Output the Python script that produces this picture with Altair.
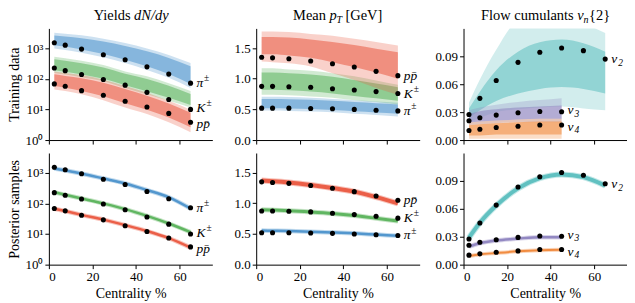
import altair as alt
import pandas as pd

FONT = "Liberation Serif"

cent = [2.5, 7.5, 15, 25, 35, 45, 55, 65]
cent_v = [2.5, 7.5, 15, 25, 35, 45]

# measured data (black dots)
dn_pi = [1500, 1250, 930, 610, 415, 245, 142, 72]
dn_k = [224, 184, 138, 95, 62, 36, 21, 10]
dn_p = [68, 57, 41, 29, 18.5, 12, 7.4, 3.8]
pt_pi = [0.52, 0.52, 0.52, 0.515, 0.51, 0.50, 0.487, 0.475]
pt_k = [0.875, 0.875, 0.87, 0.86, 0.837, 0.816, 0.79, 0.758]
pt_p = [1.35, 1.34, 1.325, 1.29, 1.245, 1.19, 1.12, 1.05]
v2 = [0.0275, 0.0448, 0.064, 0.0835, 0.0944, 0.099, 0.0961, 0.087]
v3 = [0.0208, 0.024, 0.0268, 0.0293, 0.0307, 0.0305]
v4 = [0.0102, 0.0116, 0.0134, 0.0148, 0.0162, 0.0162]

# training design: outer envelope and dense core of the model curves
tr_dn_pi_lo = [980, 870, 710, 500, 324, 195, 107, 50]
tr_dn_pi_hi = [3160, 2950, 2630, 2040, 1480, 980, 600, 324]
tr_dn_pi_clo = [1250, 1120, 900, 640, 420, 255, 142, 68]
tr_dn_pi_chi = [2600, 2400, 2100, 1650, 1180, 790, 480, 255]
tr_dn_k_lo = [155, 138, 112, 83, 50, 31, 19, 11.5]
tr_dn_k_hi = [525, 468, 389, 282, 174, 120, 72, 40]
tr_dn_k_clo = [190, 170, 138, 100, 62, 39, 24, 14]
tr_dn_k_chi = [430, 385, 320, 232, 146, 98, 59, 32]
tr_dn_p_lo = [45, 40, 31, 20, 11.5, 7.1, 3.8, 1.8]
tr_dn_p_hi = [174, 155, 132, 93, 58, 35, 19, 9.8]
tr_dn_p_clo = [58, 51, 40, 27, 16, 9.8, 5.4, 2.6]
tr_dn_p_chi = [140, 124, 104, 74, 46, 28, 15.5, 7.8]

tr_pt_pi_lo = [0.48, 0.48, 0.475, 0.465, 0.455, 0.43, 0.41, 0.385]
tr_pt_pi_hi = [0.705, 0.705, 0.70, 0.69, 0.67, 0.65, 0.63, 0.61]
tr_pt_pi_clo = [0.52, 0.52, 0.515, 0.505, 0.49, 0.47, 0.45, 0.43]
tr_pt_pi_chi = [0.67, 0.67, 0.665, 0.655, 0.64, 0.62, 0.60, 0.58]
tr_pt_k_lo = [0.74, 0.74, 0.73, 0.71, 0.69, 0.65, 0.62, 0.58]
tr_pt_k_hi = [1.17, 1.17, 1.15, 1.13, 1.09, 1.04, 0.97, 0.90]
tr_pt_k_clo = [0.82, 0.82, 0.81, 0.79, 0.76, 0.72, 0.68, 0.64]
tr_pt_k_chi = [1.10, 1.10, 1.09, 1.07, 1.03, 0.98, 0.92, 0.86]
tr_pt_p_lo = [1.28, 1.27, 1.25, 1.20, 1.09, 0.98, 0.85, 0.74]
tr_pt_p_hi = [1.77, 1.77, 1.76, 1.73, 1.70, 1.65, 1.60, 1.54]
tr_pt_p_clo = [1.40, 1.40, 1.38, 1.34, 1.27, 1.19, 1.10, 1.00]
tr_pt_p_chi = [1.68, 1.68, 1.67, 1.64, 1.60, 1.55, 1.49, 1.43]

tr_v2_lo = [0.019, 0.024, 0.030, 0.033, 0.035, 0.036, 0.034, 0.032]
tr_v2_hi = [0.040, 0.065, 0.097, 0.128, 0.132, 0.13, 0.125, 0.115]
tr_v2_clo = [0.024, 0.032, 0.042, 0.050, 0.055, 0.057, 0.055, 0.050]
tr_v2_chi = [0.034, 0.052, 0.075, 0.095, 0.105, 0.108, 0.104, 0.095]
tr_v3_lo = [0.016, 0.017, 0.018, 0.019, 0.019, 0.019]
tr_v3_hi = [0.032, 0.035, 0.038, 0.041, 0.043, 0.045]
tr_v3_clo = [0.019, 0.020, 0.021, 0.022, 0.023, 0.023]
tr_v3_chi = [0.028, 0.031, 0.033, 0.035, 0.036, 0.037]
tr_v4_lo = [0.0015, 0.0015, 0.0015, 0.0015, 0.0015, 0.0015]
tr_v4_hi = [0.019, 0.020, 0.021, 0.022, 0.023, 0.023]
tr_v4_clo = [0.005, 0.005, 0.006, 0.006, 0.006, 0.006]
tr_v4_chi = [0.016, 0.017, 0.018, 0.019, 0.020, 0.020]

# posterior samples
po_dn_pi = [1380, 1190, 940, 650, 445, 272, 158, 68]
po_dn_k = [230, 190, 145, 99, 65, 39, 22, 11.5]
po_dn_p = [67, 56, 42, 29.5, 19.5, 12.5, 7.3, 3.6]
po_pt_pi = [0.555, 0.553, 0.548, 0.538, 0.525, 0.51, 0.49, 0.47]
po_pt_k = [0.895, 0.89, 0.88, 0.86, 0.835, 0.80, 0.755, 0.71]
po_pt_p = [1.37, 1.36, 1.34, 1.30, 1.25, 1.19, 1.10, 1.00]
po_v2 = [0.029, 0.045, 0.0635, 0.082, 0.093, 0.097, 0.094, 0.085]
po_v3 = [0.0195, 0.023, 0.026, 0.028, 0.0295, 0.0295]
po_v4 = [0.0095, 0.011, 0.0125, 0.0143, 0.0155, 0.016]

C_PI = "#4d94cc"
C_K = "#5bb35c"
C_P = "#ea5a41"
C_V2 = "#5cbfbf"
C_V3 = "#8e84c0"
C_V4 = "#f0883a"

W, H = 164, 112


def xenc(bottom):
    if bottom:
        ax = alt.Axis(values=[0, 20, 40, 60], title="Centrality %", titlePadding=3)
    else:
        ax = alt.Axis(values=[0, 20, 40, 60], labels=False, title=None)
    return alt.X("x:Q", scale=alt.Scale(domain=[0, 75], nice=False, zero=False), axis=ax)


def yenc(field, scale, axis):
    return alt.Y(field, type="quantitative", scale=scale, axis=axis)


def bands(xs, lo, hi, clo, chi, color, xe, ys, ya, clip=False):
    df = pd.DataFrame({"x": xs, "lo": lo, "hi": hi, "clo": clo, "chi": chi})
    b = alt.Chart(df)
    outer = b.mark_area(color=color, opacity=0.28, interpolate="monotone", clip=clip).encode(
        x=xe, y=yenc("lo", ys, ya), y2="hi")
    inner = b.mark_area(color=color, opacity=0.55, interpolate="monotone", clip=clip).encode(
        x=xe, y=yenc("clo", ys, ya), y2="chi")
    return [outer, inner]


def post(xs, vals, color, sw, xe, ys, ya):
    df = pd.DataFrame({"x": xs, "y": vals})
    b = alt.Chart(df)
    halo = b.mark_line(color=color, opacity=0.35, strokeWidth=sw + 2, interpolate="monotone").encode(
        x=xe, y=yenc("y", ys, ya))
    core = b.mark_line(color=color, opacity=0.95, strokeWidth=sw, interpolate="monotone").encode(
        x=xe, y=yenc("y", ys, ya))
    return [halo, core]


def dots(xs, vals, xe, ys, ya):
    df = pd.DataFrame({"x": xs, "y": vals})
    return [alt.Chart(df).mark_circle(size=26, color="black", opacity=1).encode(
        x=xe, y=yenc("y", ys, ya))]


def label(x, y, main, extra, extra_dx, extra_dy, xe, ys, ya, dy=0):
    df = pd.DataFrame({"x": [x], "y": [y], "t": [main], "e": [extra]})
    b = alt.Chart(df)
    out = [b.mark_text(font=FONT, fontSize=13.5, fontStyle="italic", align="left", baseline="middle",
                       dx=6, dy=dy, color="black").encode(x=xe, y=yenc("y", ys, ya), text="t:N")]
    if extra:
        out.append(b.mark_text(font=FONT, fontSize=9.5, fontStyle="normal" if extra == "±" else "italic",
                               align="left", baseline="middle", dx=6 + extra_dx, dy=dy + extra_dy,
                               color="black").encode(x=xe, y=yenc("y", ys, ya), text="e:N"))
    return out


def ttext(txt, x, align, size=14.5, style="normal", dy=0):
    df = pd.DataFrame({"t": [txt]})
    return alt.Chart(df).mark_text(font=FONT, fontSize=size, fontStyle=style, align=align,
                                   baseline="alphabetic", dy=dy, color="black").encode(
        x=alt.value(x), y=alt.value(-8), text="t:N")


# scales / axes
s_dn = alt.Scale(type="log", domain=[1, 4400], nice=False)
s_pt = alt.Scale(domain=[0, 1.82], nice=False, zero=False)
s_vn = alt.Scale(domain=[0, 0.12], nice=False, zero=False)

dn_expr = "datum.value == 1 ? '10⁰' : datum.value == 10 ? '10¹' : datum.value == 100 ? '10²' : '10³'"


def ax_dn(title):
    if title:
        return alt.Axis(values=[1, 10, 100, 1000], labelExpr=dn_expr, title=title, titlePadding=3)
    return alt.Axis(values=[1, 10, 100, 1000], labelExpr=dn_expr, title=None)


def ax_pt():
    return alt.Axis(values=[0, 0.5, 1.0, 1.5], format=".1f", title=None)


def ax_vn():
    return alt.Axis(values=[0, 0.03, 0.06, 0.09], format=".2f", title=None)


def labels_dn(xe, ys, ya):
    return (label(65, dn_pi[-1], "π", "±", 7.5, -5, xe, ys, ya)
            + label(65, dn_k[-1], "K", "±", 10, -5, xe, ys, ya, dy=-1)
            + label(65, dn_p[-1], "pp\u0304", "", 0, 0, xe, ys, ya, dy=2))


def labels_pt(xe, ys, ya):
    return (label(65, pt_p[-1], "pp\u0304", "", 0, 0, xe, ys, ya)
            + label(65, pt_k[-1], "K", "±", 10, -5, xe, ys, ya)
            + label(65, pt_pi[-1], "π", "±", 7.5, -5, xe, ys, ya))


def labels_vn(xe, ys, ya):
    return (label(65, v2[-1], "v", "2", 7, 4, xe, ys, ya)
            + label(45, v3[-1], "v", "3", 7, 3.5, xe, ys, ya, dy=-1.5)
            + label(45, v4[-1], "v", "4", 7, 3.5, xe, ys, ya, dy=2))


# ---------- top row: training data ----------
xe = xenc(False)
ya = ax_dn("Training data")
p1 = alt.layer(
    *bands(cent, tr_dn_pi_lo, tr_dn_pi_hi, tr_dn_pi_clo, tr_dn_pi_chi, C_PI, xe, s_dn, ya),
    *bands(cent, tr_dn_k_lo, tr_dn_k_hi, tr_dn_k_clo, tr_dn_k_chi, C_K, xe, s_dn, ya),
    *bands(cent, tr_dn_p_lo, tr_dn_p_hi, tr_dn_p_clo, tr_dn_p_chi, C_P, xe, s_dn, ya),
    *dots(cent, dn_pi, xe, s_dn, ya), *dots(cent, dn_k, xe, s_dn, ya), *dots(cent, dn_p, xe, s_dn, ya),
    *labels_dn(xe, s_dn, ya),
    ttext("Yields", 82, "right"), ttext("dN/dy", 85.5, "left", style="italic"),
).properties(width=W, height=H)

ya = ax_pt()
p2 = alt.layer(
    *bands(cent, tr_pt_pi_lo, tr_pt_pi_hi, tr_pt_pi_clo, tr_pt_pi_chi, C_PI, xe, s_pt, ya),
    *bands(cent, tr_pt_k_lo, tr_pt_k_hi, tr_pt_k_clo, tr_pt_k_chi, C_K, xe, s_pt, ya),
    *bands(cent, tr_pt_p_lo, tr_pt_p_hi, tr_pt_p_clo, tr_pt_p_chi, C_P, xe, s_pt, ya),
    *dots(cent, pt_pi, xe, s_pt, ya), *dots(cent, pt_k, xe, s_pt, ya), *dots(cent, pt_p, xe, s_pt, ya),
    *labels_pt(xe, s_pt, ya),
    ttext("Mean", 70, "right"), ttext("p", 73.6, "left", style="italic"),
    ttext("T", 80.6, "left", size=10, style="italic", dy=3), ttext("[GeV]", 89.5, "left"),
).properties(width=W, height=H)

ya = ax_vn()
p3 = alt.layer(
    *bands(cent, tr_v2_lo, tr_v2_hi, tr_v2_clo, tr_v2_chi, C_V2, xe, s_vn, ya, clip=True),
    *bands(cent_v, tr_v3_lo, tr_v3_hi, tr_v3_clo, tr_v3_chi, C_V3, xe, s_vn, ya),
    *bands(cent_v, tr_v4_lo, tr_v4_hi, tr_v4_clo, tr_v4_chi, C_V4, xe, s_vn, ya),
    *dots(cent, v2, xe, s_vn, ya), *dots(cent_v, v3, xe, s_vn, ya), *dots(cent_v, v4, xe, s_vn, ya),
    *labels_vn(xe, s_vn, ya),
    ttext("Flow cumulants", 110.5, "right"), ttext("v", 114, "left", style="italic"),
    ttext("n", 120.4, "left", size=10, style="italic", dy=3), ttext("{2}", 126, "left"),
).properties(width=W, height=H)

# ---------- bottom row: posterior samples ----------
xe = xenc(True)
ya = ax_dn("Posterior samples")
p4 = alt.layer(
    *post(cent, po_dn_pi, C_PI, 2.5, xe, s_dn, ya),
    *post(cent, po_dn_k, C_K, 2.5, xe, s_dn, ya),
    *post(cent, po_dn_p, C_P, 2.5, xe, s_dn, ya),
    *dots(cent, dn_pi, xe, s_dn, ya), *dots(cent, dn_k, xe, s_dn, ya), *dots(cent, dn_p, xe, s_dn, ya),
    *labels_dn(xe, s_dn, ya),
).properties(width=W, height=H)

ya = ax_pt()
p5 = alt.layer(
    *post(cent, po_pt_pi, C_PI, 2.5, xe, s_pt, ya),
    *post(cent, po_pt_k, C_K, 3.0, xe, s_pt, ya),
    *post(cent, po_pt_p, C_P, 4.0, xe, s_pt, ya),
    *dots(cent, pt_pi, xe, s_pt, ya), *dots(cent, pt_k, xe, s_pt, ya), *dots(cent, pt_p, xe, s_pt, ya),
    *labels_pt(xe, s_pt, ya),
).properties(width=W, height=H)

ya = ax_vn()
p6 = alt.layer(
    *post(cent, po_v2, C_V2, 4.0, xe, s_vn, ya),
    *post(cent_v, po_v3, C_V3, 2.5, xe, s_vn, ya),
    *post(cent_v, po_v4, C_V4, 2.0, xe, s_vn, ya),
    *dots(cent, v2, xe, s_vn, ya), *dots(cent_v, v3, xe, s_vn, ya), *dots(cent_v, v4, xe, s_vn, ya),
    *labels_vn(xe, s_vn, ya),
).properties(width=W, height=H)

chart = alt.concat(p1, p2, p3, p4, p5, p6, columns=3,
                   spacing={"row": 13, "column": 44}, bounds="flush").properties(
    padding={"left": 0, "top": 0, "right": 0, "bottom": 0}
).configure_view(stroke=None).configure_axis(
    grid=False, domainColor="black", tickColor="black", labelColor="black", titleColor="black",
    labelFont=FONT, titleFont=FONT, labelFontSize=13, titleFontSize=14, titleFontWeight="normal",
    tickSize=4, domainWidth=1, tickWidth=1, labelPadding=2,
)

chart.save("out.html", embed_options={"renderer": "svg", "actions": False})
